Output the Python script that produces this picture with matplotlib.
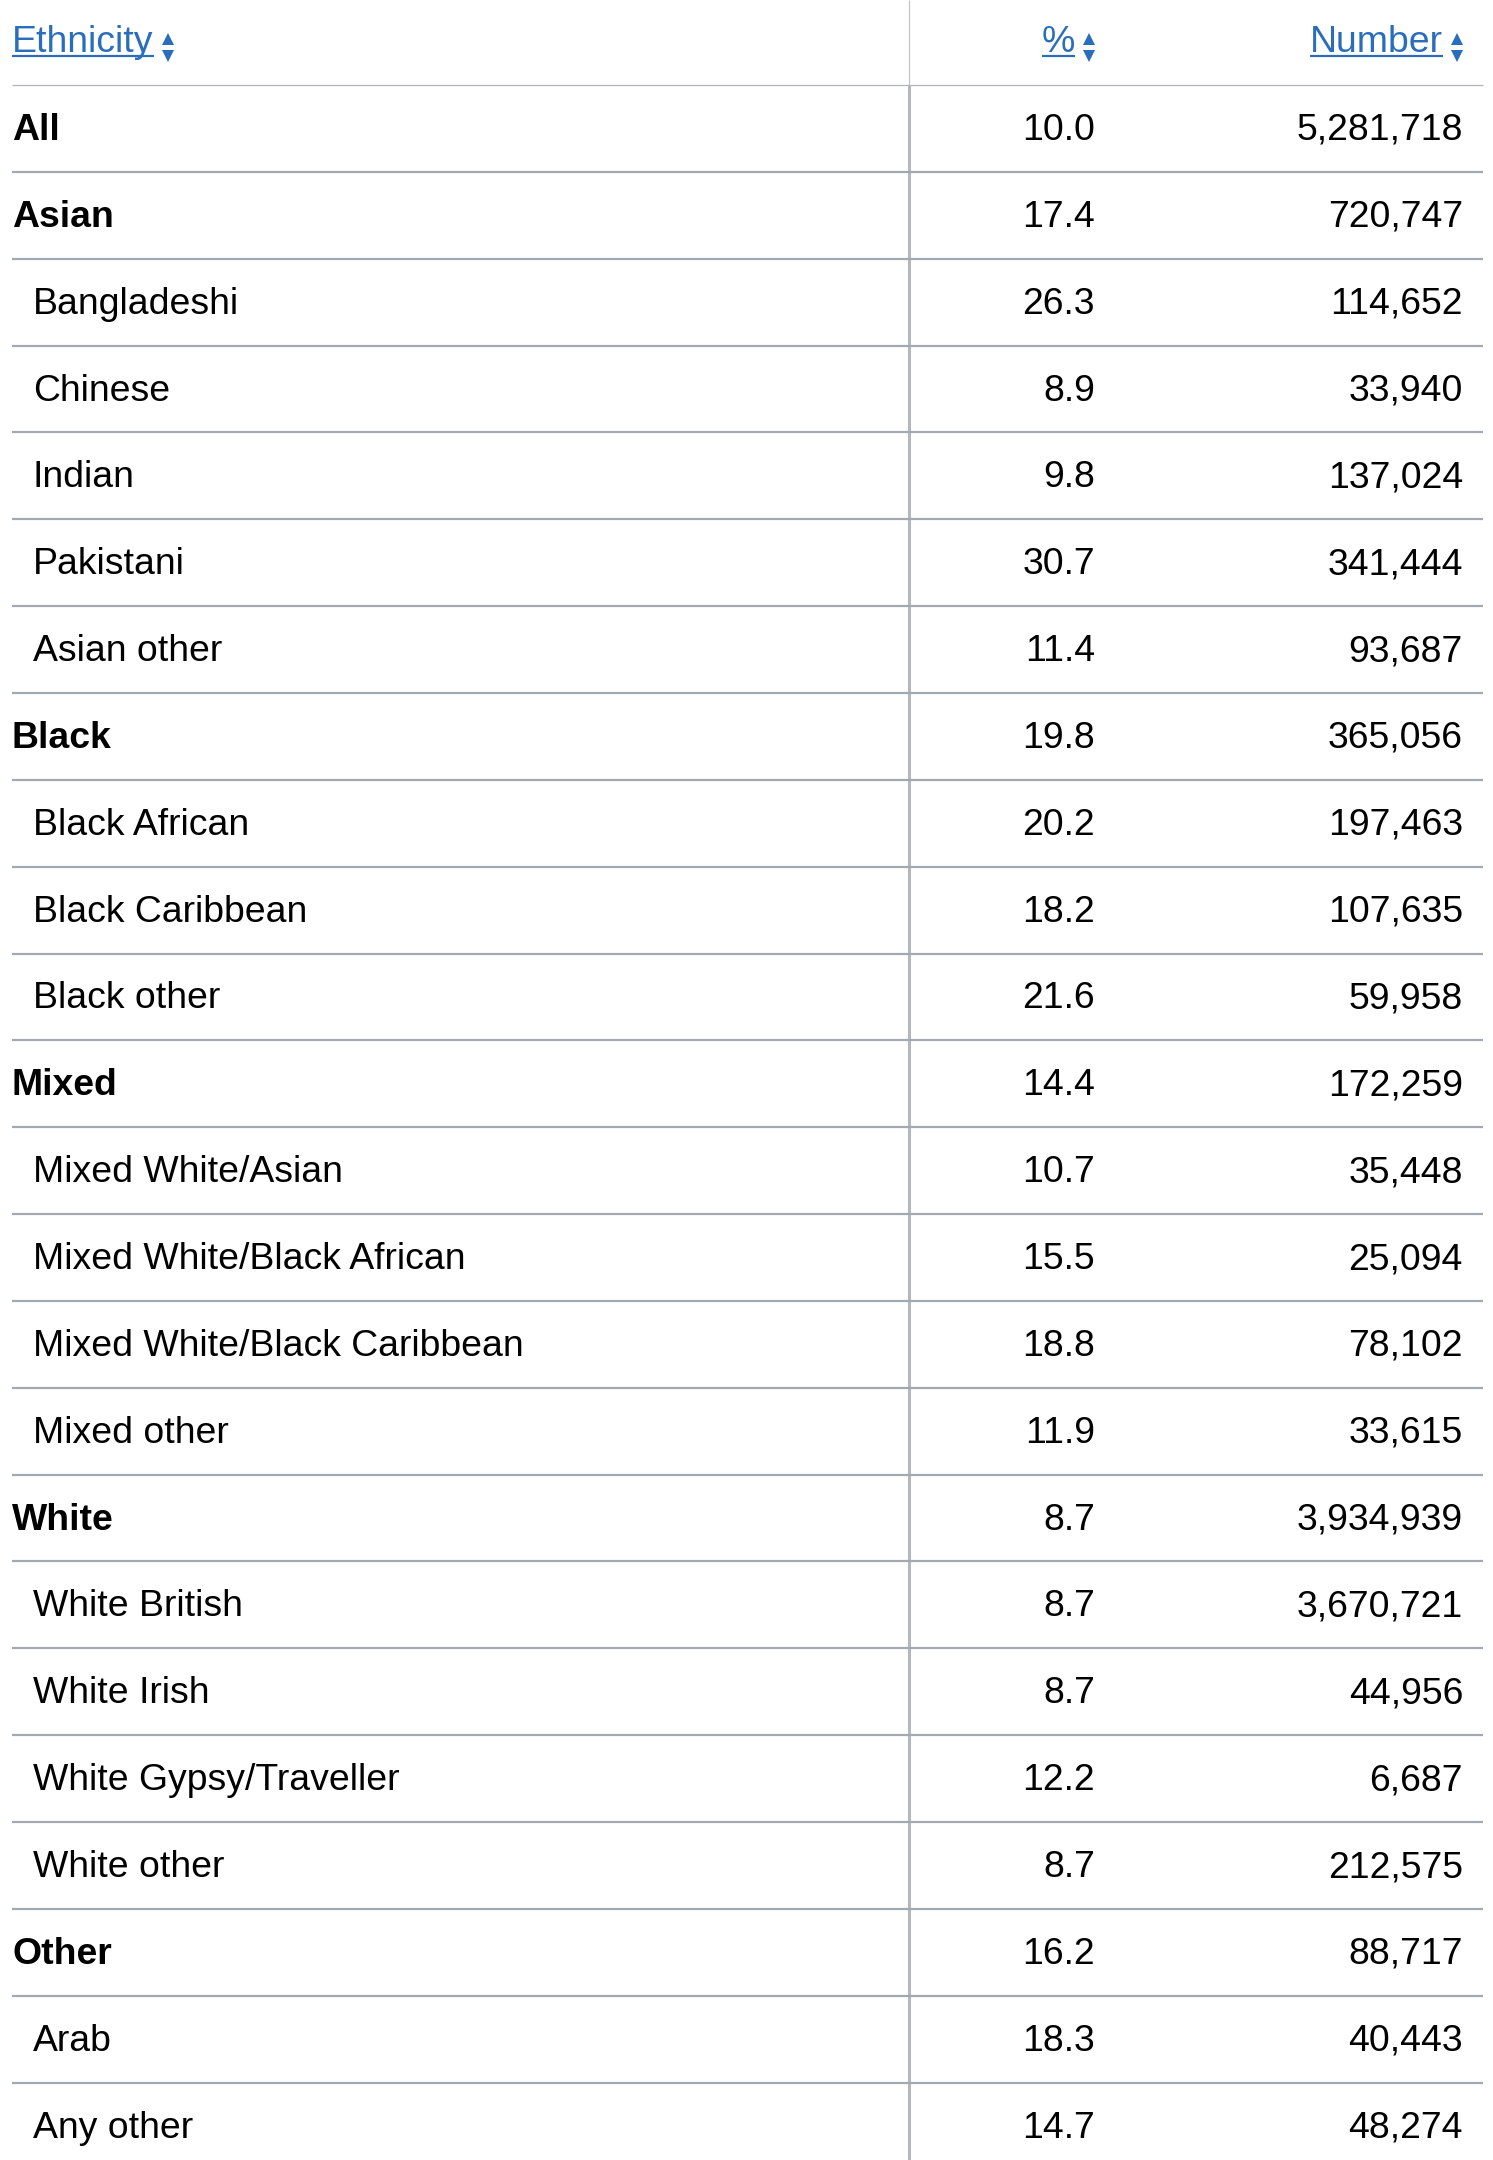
import matplotlib
matplotlib.use("Agg")
import matplotlib.pyplot as plt

# ---- data ----
headers = ["Ethnicity", "%", "Number"]
names = ["All", "Asian", "Bangladeshi", "Chinese", "Indian", "Pakistani", "Asian other",
         "Black", "Black African", "Black Caribbean", "Black other",
         "Mixed", "Mixed White/Asian", "Mixed White/Black African",
         "Mixed White/Black Caribbean", "Mixed other",
         "White", "White British", "White Irish", "White Gypsy/Traveller", "White other",
         "Other", "Arab", "Any other"]
pct = [10.0, 17.4, 26.3, 8.9, 9.8, 30.7, 11.4,
       19.8, 20.2, 18.2, 21.6,
       14.4, 10.7, 15.5, 18.8, 11.9,
       8.7, 8.7, 8.7, 12.2, 8.7,
       16.2, 18.3, 14.7]
number = [5281718, 720747, 114652, 33940, 137024, 341444, 93687,
          365056, 197463, 107635, 59958,
          172259, 35448, 25094, 78102, 33615,
          3934939, 3670721, 44956, 6687, 212575,
          88717, 40443, 48274]
is_group = [True, True, False, False, False, False, False,
            True, False, False, False,
            True, False, False, False, False,
            True, False, False, False, False,
            True, False, False]

# ---- layout (pixels) ----
W, H = 1493, 2160
HEADER_H = 85
ROW_H = 86.85
LEFT = 12
RIGHT = 1483
VX = 909
PCT_RIGHT = 1095
NUM_RIGHT = 1463
INDENT = 33
FS = 26.9
LINK = "#2a6ebb"
GRID = "#a2a9b1"
TXT = "#000000"
FONT = "Liberation Sans"

fig = plt.figure(figsize=(W / 100, H / 100), dpi=100)
ax = fig.add_axes([0, 0, 1, 1])
ax.set_xlim(0, W)
ax.set_ylim(H, 0)
ax.axis("off")

# header
hdr_base = 52
t_eth = ax.text(LEFT, hdr_base, headers[0], fontsize=FS, family=FONT, color=LINK,
                ha="left", va="baseline")
t_pct = ax.text(1075, hdr_base, headers[1], fontsize=FS, family=FONT, color=LINK,
                ha="right", va="baseline")
t_num = ax.text(1443, hdr_base, headers[2], fontsize=FS, family=FONT, color=LINK,
                ha="right", va="baseline")

for xc in (168, 1089, 1457):
    ax.plot([xc], [39], marker="^", markersize=8.5, color=LINK, markeredgewidth=0,
            linestyle="none")
    ax.plot([xc], [56], marker="v", markersize=8.5, color=LINK, markeredgewidth=0,
            linestyle="none")

# header line + vertical divider
ax.plot([LEFT, RIGHT], [HEADER_H, HEADER_H], color="#b0b5bb", lw=0.9,
        solid_capstyle="butt")
ax.plot([VX, VX], [0, HEADER_H], color="#c0c4c9", lw=0.9, solid_capstyle="butt")
ax.plot([VX, VX], [HEADER_H, H], color="#b4b8bd", lw=2.2, solid_capstyle="butt")

# rows
for i, (nm, p, n, g) in enumerate(zip(names, pct, number, is_group)):
    top = HEADER_H + i * ROW_H
    base = top + 55
    ax.text(LEFT if g else INDENT, base, nm, fontsize=FS, family=FONT, color=TXT,
            fontweight="bold" if g else "normal", ha="left", va="baseline")
    ax.text(PCT_RIGHT, base, f"{p:.1f}", fontsize=FS, family=FONT, color=TXT,
            ha="right", va="baseline")
    ax.text(NUM_RIGHT, base, f"{n:,}", fontsize=FS, family=FONT, color=TXT,
            ha="right", va="baseline")
    bottom = top + ROW_H
    if bottom < H:
        ax.plot([LEFT, RIGHT], [bottom, bottom], color=GRID, lw=1.6,
                solid_capstyle="butt")

# underlines for header links
fig.canvas.draw()
r = fig.canvas.get_renderer()
inv = ax.transData.inverted()
for t in (t_eth, t_pct, t_num):
    bb = t.get_window_extent(renderer=r)
    x0 = inv.transform((bb.x0, 0))[0]
    x1 = inv.transform((bb.x1, 0))[0]
    ax.plot([x0, x1], [55.5, 55.5], color=LINK, lw=1.6, solid_capstyle="butt")

fig.savefig("out.png", dpi=100, facecolor="white")
